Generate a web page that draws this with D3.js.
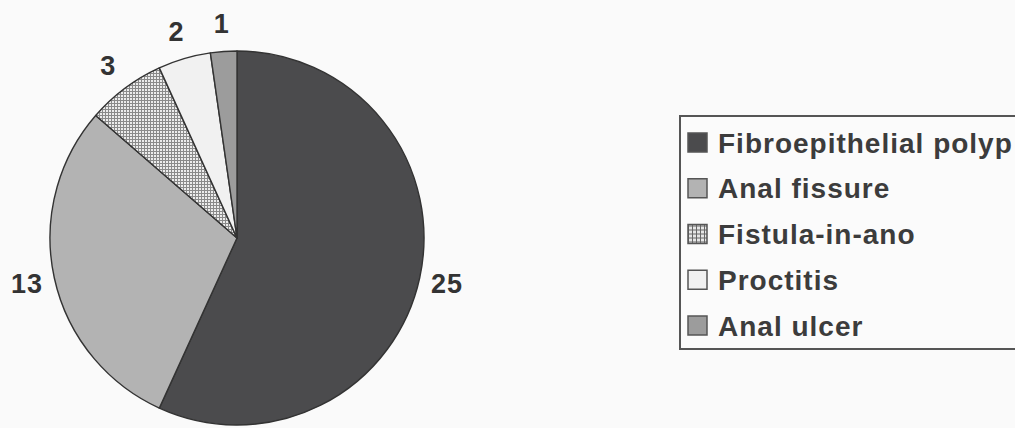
<!DOCTYPE html>
<html><head><meta charset="utf-8">
<script src="https://cdn.jsdelivr.net/npm/d3@7"></script>
<style>html,body{margin:0;padding:0;background:#fafafa;}svg{display:block;}</style>
</head><body>
<svg id="c" width="1015" height="428"></svg>
<script>
const categories = ["Fibroepithelial polyp","Anal fissure","Fistula-in-ano","Proctitis","Anal ulcer"];
const values = [25, 13, 3, 2, 1];
const fills = ["#4b4b4d","#b3b3b3","url(#hatch)","#f1f1f1","#9c9c9c"];

const svg = d3.select("#c");
const defs = svg.append("defs");
const pat = defs.append("pattern").attr("id","hatch").attr("patternUnits","userSpaceOnUse")
  .attr("width",3).attr("height",3);
pat.append("rect").attr("width",3).attr("height",3).attr("fill","#ececec");
pat.append("path").attr("d","M0,0.5H3M0.5,0V3").attr("stroke","#8a8a8a").attr("stroke-width",1);
const pat2 = defs.append("pattern").attr("id","hatchS").attr("patternUnits","userSpaceOnUse")
  .attr("width",4).attr("height",4);
pat2.append("rect").attr("width",4).attr("height",4).attr("fill","#e6e6e6");
pat2.append("path").attr("d","M0,0.5H4M0.5,0V4").attr("stroke","#666").attr("stroke-width",1);

const cx = 237, cy = 238, R = 187;
const data = categories.map((c,i)=>({c, v: values[i], f: fills[i]}));
const pie = d3.pie().value(d=>d.v).sort(null);
const arcs = pie(data);
const arc = d3.arc().innerRadius(0).outerRadius(R);
const labelArc = d3.arc().innerRadius(215).outerRadius(215);

const g = svg.append("g").attr("transform",`translate(${cx},${cy})`);
g.selectAll("path").data(arcs).join("path")
  .attr("d",arc).attr("fill",d=>d.data.f)
  .attr("stroke","#333").attr("stroke-width",1.4).attr("stroke-linejoin","round");

g.selectAll("text").data(arcs).join("text")
  .attr("transform",d=>`translate(${labelArc.centroid(d)})`)
  .attr("text-anchor","middle").attr("dominant-baseline","central")
  .attr("font-family","Liberation Sans, Arial, sans-serif").attr("font-weight","bold")
  .attr("font-size",27).attr("letter-spacing",1).attr("fill","#333")
  .text(d=>d.data.v);

// legend
const lx = 680, ly = 116, lw = 345, lh = 233;
const lg = svg.append("g");
lg.append("rect").attr("x",lx).attr("y",ly).attr("width",lw).attr("height",lh)
  .attr("fill","#fbfbfb").attr("stroke","#555").attr("stroke-width",2);
const rowY = d3.scalePoint().domain(categories).range([142, 325]);
const items = lg.selectAll("g.it").data(data).join("g").attr("class","it")
  .attr("transform",d=>`translate(${lx},${rowY(d.c)})`);
items.append("rect").attr("x",8).attr("y",-9).attr("width",19).attr("height",19)
  .attr("fill",(d,i)=> i===2 ? "url(#hatchS)" : d.f).attr("stroke","#555").attr("stroke-width",1.5);
items.append("text").attr("x",38).attr("y",1).attr("dominant-baseline","central")
  .attr("font-family","Liberation Sans, Arial, sans-serif").attr("font-weight","bold")
  .attr("font-size",28).attr("letter-spacing",1).attr("fill","#3c3c3c")
  .text(d=>d.c);
</script>
</body></html>
